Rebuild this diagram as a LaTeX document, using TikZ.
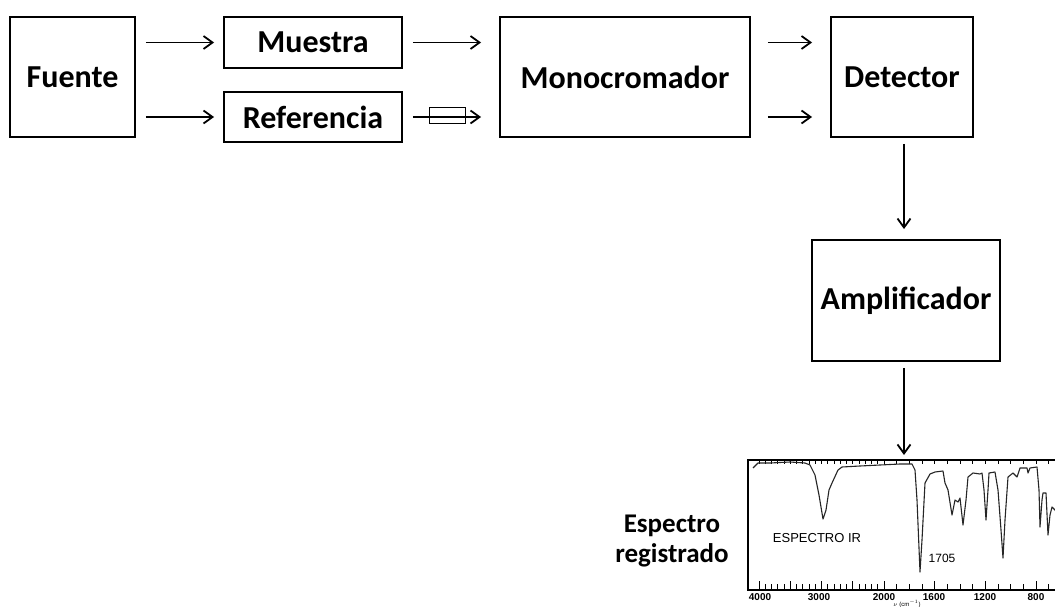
\documentclass[tikz,border=0pt]{standalone}
\usepackage{fontspec}
\setmainfont{Carlito}
\newfontfamily\arialf{Liberation Sans}
\usetikzlibrary{arrows.meta,calc}
\begin{document}
\begin{tikzpicture}[x=1pt,y=-1pt,
  blk/.style={draw,line width=1.9pt,font=\fontsize{32}{36}\selectfont\bfseries,inner sep=0pt},
  arr/.style={line width=1.7pt,-{Straight Barb[length=9pt,width=13pt,line width=1.8pt]}},
  trace/.style={line width=1.1pt,draw=black!85,line join=round},
  tick/.style={line width=0.9pt},
  axlab/.style={font=\arialf\bfseries\fontsize{10}{11}\selectfont,inner sep=0pt},
  lab/.style={font=\fontsize{27}{30}\selectfont\bfseries,align=center,inner sep=0pt}]
\clip (0,0) rectangle (1055,607);
\fill[white] (0,0) rectangle (1055,607);

% blocks
\node[blk,minimum width=125pt,minimum height=120pt] (fuente) at (72.5,77) {Fuente};
\node[blk,minimum width=178pt,minimum height=51pt] (muestra) at (313,42.5) {Muestra};
\node[blk,minimum width=178pt,minimum height=50pt] (ref) at (313,117) {Referencia};
\node[blk,minimum width=250pt,minimum height=120pt] (mono) at (625,77) {Monocromador};
\node[blk,minimum width=142pt,minimum height=120pt] (det) at (902,77) {Detector};
\node[blk,minimum width=188pt,minimum height=121pt] (amp) at (906,300.5) {Amplificador};
\node[draw,line width=1pt,minimum width=36pt,minimum height=16pt,inner sep=0pt] (celda) at (447,116) {};

% spectrum frame
\node[draw,line width=1.8pt,minimum width=330pt,minimum height=130pt,anchor=north west,inner sep=0pt] (spec) at (747,459) {};
\node[lab] (esp) at (672,541) {Espectro\\registrado};

% arrows
\draw[arr] ([xshift=10pt]fuente.east |- muestra) -- ([xshift=-9pt]muestra.west);
\draw[arr] ([xshift=10pt]fuente.east |- ref) -- ([xshift=-9pt]ref.west);
\draw[arr] ([xshift=10pt]muestra.east) -- ([xshift=-18pt]mono.west |- muestra);
\draw[arr] ([xshift=10pt]ref.east) -- ([xshift=-18pt]mono.west |- ref);
\draw[arr] ([xshift=17pt]mono.east |- muestra) -- ([xshift=-18pt]det.west |- muestra);
\draw[arr] ([xshift=17pt]mono.east |- ref) -- ([xshift=-18pt]det.west |- ref);
\draw[arr] ([xshift=2pt,yshift=-6pt]det.south) -- ([xshift=2pt,yshift=10pt]det.south |- amp.north);
\draw[arr] ([xshift=-2pt,yshift=-6pt]amp.south) -- ([xshift=-2pt,yshift=4pt]amp.south |- spec.north);

% ticks (every 100 cm^-1)
\foreach \v in {4000,3900,...,2100} {
  \pgfmathsetmacro{\xx}{759+(4000-\v)*0.0625}
  \draw[tick] (\xx,459) -- (\xx,463.5);
  \draw[tick] (\xx,589) -- (\xx,584);
}
\foreach \v in {2000,1900,...,700} {
  \pgfmathsetmacro{\xx}{884+(2000-\v)*0.1267}
  \draw[tick] (\xx,459) -- (\xx,463.5);
  \draw[tick] (\xx,589) -- (\xx,584);
}
\foreach \xx in {759,790.25,821.5,852.75,884,934.7,985.4,1036} {
  \draw[tick] (\xx,589) -- (\xx,581);
}
\node[axlab] (l4000) at (760,597) {4000};
\node[axlab] (l3000) at (819,597) {3000};
\node[axlab] (l2000) at (884,597) {2000};
\node[axlab] (l1600) at (934,597) {1600};
\node[axlab] (l1200) at (985,597) {1200};
\node[axlab] (l800) at (1036,597) {800};
\node[font=\arialf\fontsize{6}{7}\selectfont,inner sep=0pt] (nu) at (907,604) {$\nu$ (cm$^{-1}$)};

% trace
\draw[trace] (753,468) -- (758,463) -- (770,463) -- (790,462) -- (805,463) -- (810,465) -- (815,475) -- (819,495) -- (823,519) -- (826,510) -- (829,490) -- (832,483) -- (838,470) -- (842,467) -- (860,466) -- (880,465) -- (900,464) -- (912,464) -- (915,470) -- (917,500) -- (920,572) -- (922,540) -- (925,483) -- (930,474) -- (935,472) -- (943,471) -- (945,483) -- (948,490) -- (952,515) -- (955,500) -- (958,502) -- (960,498) -- (963,525) -- (966,500) -- (968,477) -- (973,473) -- (980,474) -- (982,473) -- (984,490) -- (986,520) -- (988,490) -- (989,473) -- (995,472) -- (998,490) -- (1001,530) -- (1003,558) -- (1005,520) -- (1008,477) -- (1013,473) -- (1017,477) -- (1020,468) -- (1027,468) -- (1028,473) -- (1030,468) -- (1037,467) -- (1039,490) -- (1040,527) -- (1042,500) -- (1043,493) -- (1046,493) -- (1048,535) -- (1050,515) -- (1052,507) -- (1055,510) -- (1060,520);

\node[font=\arialf\fontsize{13}{14}\selectfont,inner sep=0pt] (espir) at (817,538) {ESPECTRO IR};
\node[font=\arialf\fontsize{12}{13}\selectfont,inner sep=0pt] (n1705) at (942,558) {1705};
\end{tikzpicture}
\end{document}
